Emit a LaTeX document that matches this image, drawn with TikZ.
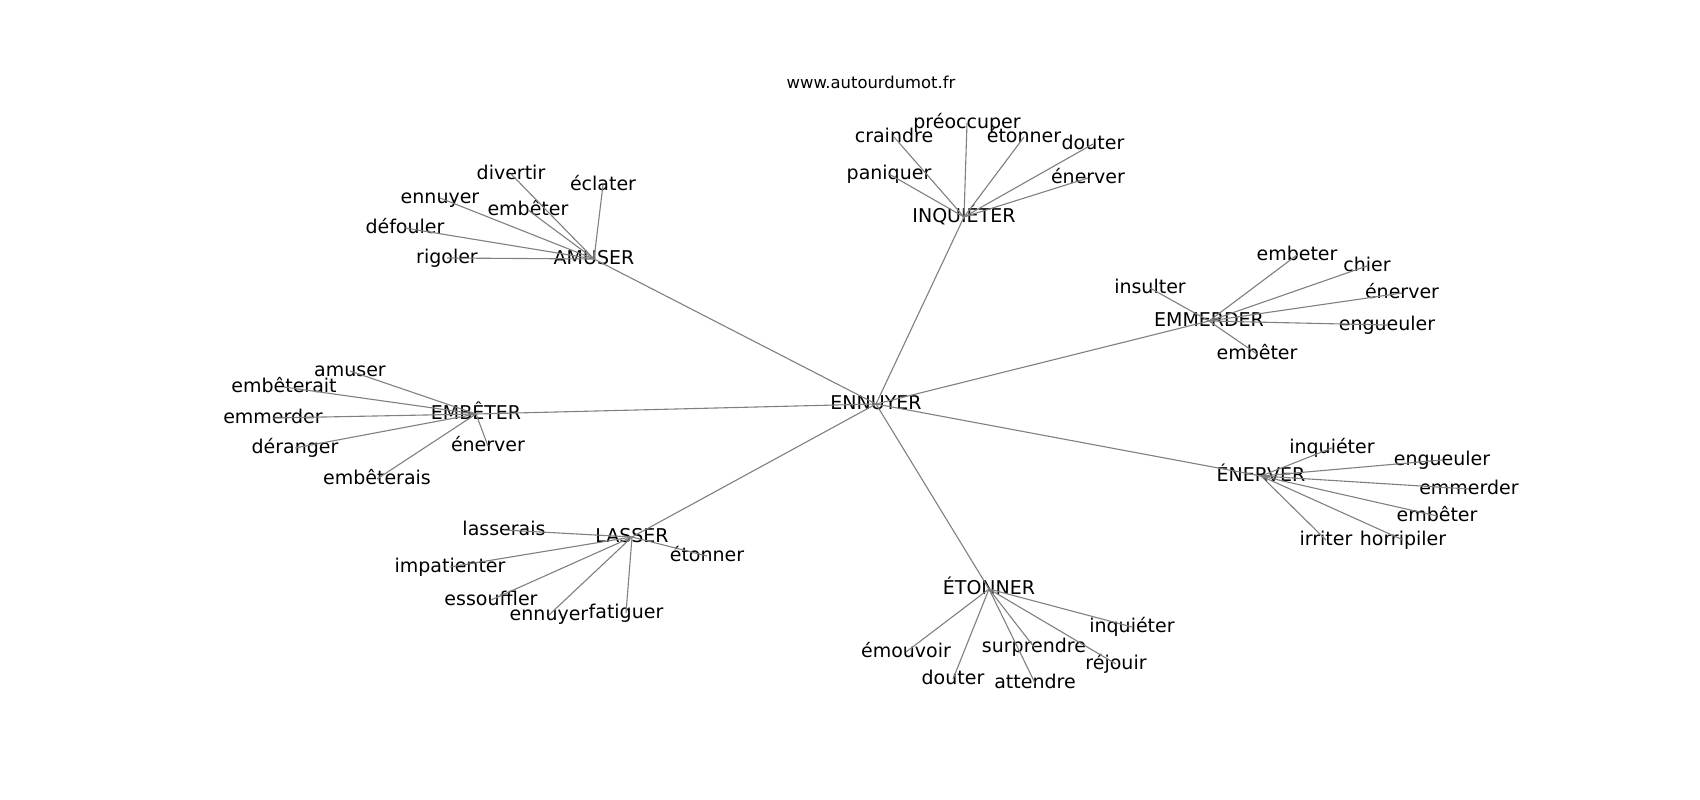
\documentclass[tikz,border=0pt]{standalone}
\usepackage{fontspec}
\setmainfont{DejaVu Sans}
\definecolor{edgegray}{HTML}{808080}
\begin{document}
\begin{tikzpicture}[x=1pt,y=-1pt,
  lbl/.style={inner sep=0pt,outer sep=0pt,anchor=center,font=\fontsize{19}{19}\selectfont,text height=1.1em,text depth=0pt},
  ttl/.style={inner sep=0pt,anchor=center,font=\fontsize{16.4}{16.4}\selectfont,text height=0.76em,text depth=0.24em},
  edge/.style={draw=edgegray,line width=1.1pt}]
\useasboundingbox (0,0) rectangle (1700,800);
\fill[white] (0,0) rectangle (1700,800);
\node[ttl] (title) at (871,86) {www.autourdumot.fr};
% hubs
\node[lbl] (ennuyer) at (876,404) {ENNUYER};
\node[lbl] (amuser) at (594,259) {AMUSER};
\node[lbl] (inquieter) at (964,217) {INQUIÉTER};
\node[lbl] (emmerder) at (1209,321) {EMMERDER};
\node[lbl] (enerver) at (1261,476) {ÉNERVER};
\node[lbl] (etonner) at (989,589) {ÉTONNER};
\node[lbl] (lasser) at (632,537) {LASSER};
\node[lbl] (embeter) at (476,414) {EMBÊTER};
% AMUSER leaves
\node[lbl] (a1) at (511,174) {divertir};
\node[lbl] (a2) at (603,185) {éclater};
\node[lbl] (a3) at (440,198) {ennuyer};
\node[lbl] (a4) at (528,210) {embêter};
\node[lbl] (a5) at (405,228) {défouler};
\node[lbl] (a6) at (447,258) {rigoler};
% INQUIETER leaves
\node[lbl] (i1) at (967,123) {préoccuper};
\node[lbl] (i2) at (894,137) {craindre};
\node[lbl] (i3) at (1024,137) {étonner};
\node[lbl] (i4) at (1093,144) {douter};
\node[lbl] (i5) at (889,174) {paniquer};
\node[lbl] (i6) at (1088,178) {énerver};
% EMMERDER leaves
\node[lbl] (m1) at (1297,255) {embeter};
\node[lbl] (m2) at (1367,266) {chier};
\node[lbl] (m3) at (1150,288) {insulter};
\node[lbl] (m4) at (1402,293) {énerver};
\node[lbl] (m5) at (1387,325) {engueuler};
\node[lbl] (m6) at (1257,354) {embêter};
% EMBETER leaves
\node[lbl] (b1) at (350,371) {amuser};
\node[lbl] (b2) at (284,387) {embêterait};
\node[lbl] (b3) at (273,418) {emmerder};
\node[lbl] (b4) at (488,446) {énerver};
\node[lbl] (b5) at (295,448) {déranger};
\node[lbl] (b6) at (377,479) {embêterais};
% ENERVER leaves
\node[lbl] (n1) at (1332,448) {inquiéter};
\node[lbl] (n2) at (1442,460) {engueuler};
\node[lbl] (n3) at (1469,489) {emmerder};
\node[lbl] (n4) at (1437,516) {embêter};
\node[lbl] (n5) at (1326,540) {irriter};
\node[lbl] (n6) at (1403,540) {horripiler};
% LASSER leaves
\node[lbl] (l1) at (504,530) {lasserais};
\node[lbl] (l2) at (707,556) {étonner};
\node[lbl] (l3) at (450,567) {impatienter};
\node[lbl] (l4) at (491,600) {essouffler};
\node[lbl] (l5) at (549,615) {ennuyer};
\node[lbl] (l6) at (626,613) {fatiguer};
% ETONNER leaves
\node[lbl] (t1) at (1132,627) {inquiéter};
\node[lbl] (t2) at (906,652) {émouvoir};
\node[lbl] (t3) at (1034,647) {surprendre};
\node[lbl] (t4) at (1116,664) {réjouir};
\node[lbl] (t5) at (953,679) {douter};
\node[lbl] (t6) at (1035,683) {attendre};
% edges
\foreach \h in {amuser,inquieter,emmerder,enerver,etonner,lasser,embeter}
  \draw[edge] (ennuyer.center) -- (\h.center);
\foreach \l in {a1,a2,a3,a4,a5,a6} \draw[edge] (amuser.center) -- (\l.center);
\foreach \l in {i1,i2,i3,i4,i5,i6} \draw[edge] (inquieter.center) -- (\l.center);
\foreach \l in {m1,m2,m3,m4,m5,m6} \draw[edge] (emmerder.center) -- (\l.center);
\foreach \l in {b1,b2,b3,b4,b5,b6} \draw[edge] (embeter.center) -- (\l.center);
\foreach \l in {n1,n2,n3,n4,n5,n6} \draw[edge] (enerver.center) -- (\l.center);
\foreach \l in {l1,l2,l3,l4,l5,l6} \draw[edge] (lasser.center) -- (\l.center);
\foreach \l in {t1,t2,t3,t4,t5,t6} \draw[edge] (etonner.center) -- (\l.center);
\end{tikzpicture}
\end{document}
